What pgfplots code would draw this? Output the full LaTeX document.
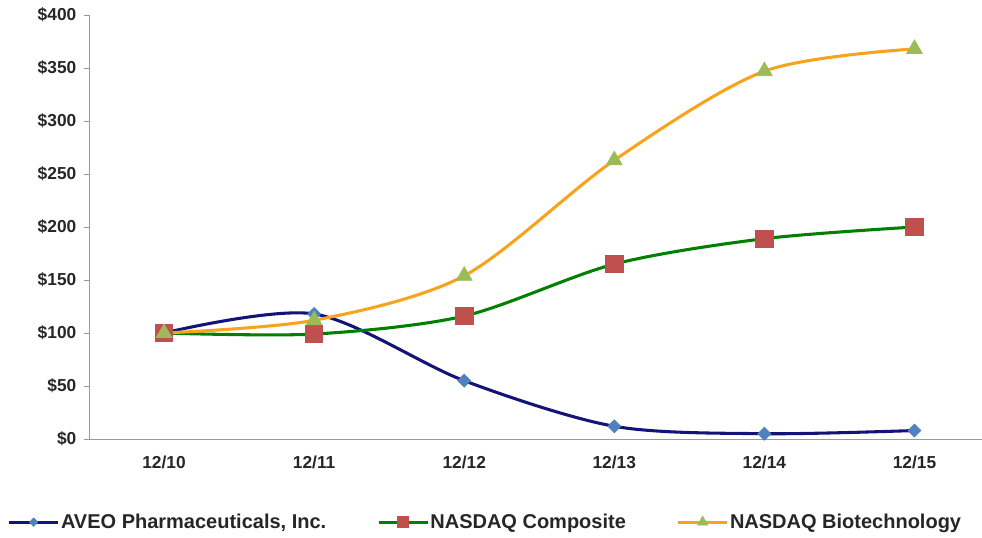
\documentclass[border=0pt]{standalone}
\usepackage{pgfplots}
\pgfplotsset{compat=1.18}
\usepackage{fontspec}
\setmainfont{Liberation Sans}
\definecolor{aveoline}{RGB}{20,20,120}
\definecolor{aveomark}{RGB}{79,129,189}
\definecolor{compline}{RGB}{0,128,0}
\definecolor{compmark}{RGB}{192,80,77}
\definecolor{bioline}{RGB}{247,163,30}
\definecolor{biomark}{RGB}{155,187,89}
\begin{document}
\begin{tikzpicture}
\path[use as bounding box] (-66.75pt,-73.5pt) rectangle (669.75pt,329.25pt);
\begin{axis}[
  at={(0,0)}, anchor=south west,
  scale only axis, width=669.75pt, height=318pt,
  xmin=-0.5, xmax=5.45, ymin=0, ymax=400,
  axis x line=bottom, axis y line=left,
  axis line style={draw=gray!80, line width=0.6pt, -},
  xtick={0,1,2,3,4,5},
  xticklabels={12/10,12/11,12/12,12/13,12/14,12/15},
  extra x ticks={0.5,1.5,2.5,3.5,4.5},
  extra x tick labels={},
  extra x tick style={major tick length=4pt, tick style={draw=gray!80}, tick align=outside},
  major x tick style={draw=none},
  ytick={0,50,...,400},
  yticklabels={\$0,\$50,\$100,\$150,\$200,\$250,\$300,\$350,\$400},
  y tick style={draw=gray!80},
  tick align=outside, major tick length=4pt,
  tick label style={font=\bfseries\fontsize{13}{15}\selectfont, text=black!85},
  yticklabel style={xshift=-2pt},
  xticklabel style={yshift=-5pt},
  legend columns=3,
  legend style={draw=none, at={(0.4435,-0.196)}, anchor=center,
    font=\bfseries\fontsize{15}{17}\selectfont, text=black!85,
    nodes={inner xsep=1pt},
    /tikz/every even column/.append style={column sep=37pt}},
  legend image code/.code={
    \draw[#1, mark=none] (0pt,0pt) -- (36.75pt,0pt);
    \draw[#1, only marks, scale=0.65] plot coordinates {(28.27pt,0pt)};
  },
  every axis plot/.append style={smooth, tension=0.5, line width=2.3pt},
]
\addplot[color=aveoline, mark=square*, mark size=3.45pt,
  mark options={rotate=45, fill=aveomark, draw=aveomark, line width=0.5pt}]
  coordinates {(0,100) (1,118) (2,55) (3,12) (4,5) (5,8)};
\addlegendentry{AVEO Pharmaceuticals, Inc.}
\addplot[color=compline, mark=square*, mark size=6.5pt,
  mark options={fill=compmark, draw=compmark, line width=0.5pt}]
  coordinates {(0,100) (1,99) (2,116) (3,165) (4,189) (5,200)};
\addlegendentry{NASDAQ Composite}
\addplot[color=bioline, mark=triangle*, mark size=6.8pt,
  mark options={fill=biomark, draw=biomark, line width=0.5pt}]
  coordinates {(0,100) (1,112) (2,154) (3,263) (4,347) (5,368)};
\addlegendentry{NASDAQ Biotechnology}
\end{axis}
\end{tikzpicture}
\end{document}
